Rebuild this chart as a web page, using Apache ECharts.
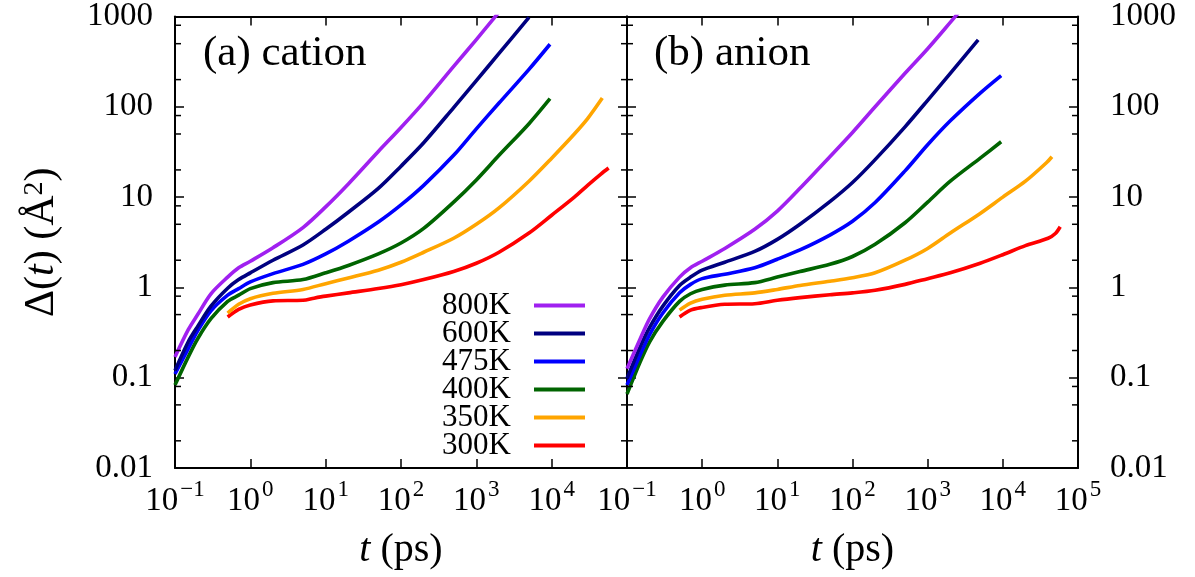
<!DOCTYPE html>
<html>
<head>
<meta charset="utf-8">
<script src="https://cdn.jsdelivr.net/npm/echarts@6/dist/echarts.min.js"></script>
<style>
html,body{margin:0;padding:0;background:#fff;}
#chart{width:1195px;height:577px;}
</style>
</head>
<body>
<div id="chart"></div>
<script>
// ---------------- data ----------------
const seriesNames = ['800K', '600K', '475K', '400K', '350K', '300K'];
const panelTitles = ['(a) cation', '(b) anion'];
const yTickLabels = ['0.01', '0.1', '1', '10', '100', '1000'];
const minorTickValues = [0.02, 0.05, 0.08, 0.2, 0.5, 0.8, 2, 5, 8, 20, 50, 80, 200, 500, 800];

// cation, [t (ps), Delta (A^2)]
const cation800 = [[0.1,0.17],[0.15,0.34],[0.2,0.5],[0.3,0.85],[0.5,1.3],[0.7,1.65],[1,1.95],[2,2.75],[5,4.6],[10,7.8],[20,14],[50,32],[100,59],[200,112],[500,280],[1000,555],[2000,1120]];
const cation600 = [[0.1,0.12],[0.15,0.25],[0.2,0.37],[0.3,0.62],[0.5,0.98],[0.7,1.22],[1,1.45],[2,2.0],[5,2.95],[10,4.4],[20,6.8],[50,12.5],[100,22],[200,40],[500,98],[1000,195],[2000,390],[5000,980]];
const cation475 = [[0.1,0.11],[0.15,0.21],[0.2,0.33],[0.3,0.55],[0.5,0.82],[0.7,0.97],[1,1.15],[2,1.42],[5,1.8],[10,2.35],[20,3.25],[50,5.3],[100,8.2],[200,13.5],[500,29],[1000,57],[2000,110],[5000,260],[9500,493]];
const cation400 = [[0.1,0.083],[0.15,0.17],[0.2,0.27],[0.3,0.45],[0.5,0.7],[0.7,0.82],[1,0.97],[2,1.13],[5,1.22],[10,1.45],[20,1.75],[50,2.35],[100,3.1],[200,4.5],[500,8.8],[1000,15.5],[2000,29],[5000,65],[9500,123]];
const cation350 = [[0.5,0.52],[0.7,0.65],[1,0.75],[2,0.86],[5,0.95],[10,1.1],[20,1.27],[50,1.55],[100,1.9],[200,2.45],[500,3.5],[1000,5.0],[2000,7.6],[5000,15],[10000,27],[20000,50],[30000,74],[47000,125]];
const cation300 = [[0.5,0.47],[0.7,0.57],[1,0.64],[2,0.71],[5,0.72],[7,0.76],[10,0.8],[20,0.87],[50,0.97],[100,1.07],[200,1.22],[500,1.5],[1000,1.85],[2000,2.45],[5000,4.0],[10000,6.3],[20000,10],[30000,13.5],[45000,18],[57000,21]];

// anion
const anion800 = [[0.1,0.126],[0.15,0.27],[0.2,0.45],[0.3,0.78],[0.5,1.3],[0.7,1.65],[1,1.95],[2,2.7],[5,4.4],[10,7.0],[20,12.5],[50,28],[100,52],[200,100],[500,235],[1000,440],[2000,860],[3000,1280]];
const anion600 = [[0.1,0.098],[0.15,0.22],[0.2,0.36],[0.3,0.62],[0.5,1.05],[0.7,1.3],[1,1.55],[2,1.9],[5,2.5],[10,3.4],[20,5.0],[50,8.9],[100,14.5],[200,26],[500,60],[1000,118],[2000,235],[4700,550]];
const anion475 = [[0.1,0.083],[0.15,0.18],[0.2,0.3],[0.3,0.52],[0.5,0.87],[0.7,1.08],[1,1.25],[2,1.4],[5,1.65],[10,2.05],[20,2.6],[50,3.8],[100,5.4],[200,8.7],[500,19.5],[1000,38],[2000,70],[5000,142],[9500,222]];
const anion400 = [[0.1,0.066],[0.15,0.15],[0.2,0.25],[0.3,0.42],[0.5,0.7],[0.7,0.85],[1,0.95],[2,1.06],[5,1.13],[10,1.3],[20,1.5],[50,1.8],[100,2.2],[200,3.0],[500,5.2],[1000,8.8],[2000,15],[5000,27],[9500,41]];
const anion350 = [[0.5,0.56],[0.7,0.67],[1,0.74],[2,0.82],[5,0.87],[10,0.95],[20,1.05],[50,1.17],[100,1.28],[200,1.45],[500,2.0],[1000,2.7],[2000,4.0],[5000,6.6],[10000,10],[20000,15],[38000,24],[45000,28]];
const anion300 = [[0.5,0.47],[0.7,0.56],[1,0.6],[2,0.65],[5,0.66],[10,0.72],[20,0.77],[50,0.83],[100,0.87],[200,0.93],[500,1.08],[1000,1.25],[2000,1.45],[5000,1.85],[10000,2.3],[20000,2.9],[40000,3.5],[50000,3.95],[58000,4.7]];

const cationData = [cation800, cation600, cation475, cation400, cation350, cation300];
const anionData = [anion800, anion600, anion475, anion400, anion350, anion300];

// ---------------- styles ----------------
const colors = ['#a020f0', '#000080', '#0000ff', '#006400', '#ffa500', '#ff0000'];
const FONT = 'Liberation Serif';
const BLACK = '#000';

const chart = echarts.init(document.getElementById('chart'), null, {renderer: 'canvas'});

const supFmt = function (v) {
  const e = Math.round(Math.log10(v));
  const s = e < 0 ? '\u2212' + (-e) : String(e);
  return '{b|10}{s|' + s + '}';
};
const yFmt = function (v) {
  const e = Math.round(Math.log10(v));
  return yTickLabels[e + 2];
};

const xRich = {
  b: {fontSize: 33, fontFamily: FONT, color: BLACK, lineHeight: 40, verticalAlign: 'bottom'},
  s: {fontSize: 23, fontFamily: FONT, color: BLACK, lineHeight: 40, verticalAlign: 'top', padding: [0, 0, 0, 2]}
};

function xAxisCfg(grid, pos, labels, showMax) {
  return {
    type: 'log', logBase: 10, min: 0.1, max: 100000, splitNumber: 6,
    gridIndex: grid, position: pos,
    axisLine: {show: true, onZero: false, lineStyle: {color: BLACK, width: 2}},
    axisTick: {show: true, inside: true, length: 9, lineStyle: {color: BLACK, width: 1.5}},
    minorTick: {show: false},
    splitLine: {show: false},
    axisLabel: labels ? {
      show: true, margin: 10, formatter: supFmt, rich: xRich,
      showMinLabel: true, showMaxLabel: showMax, hideOverlap: false
    } : {show: false},
    name: labels ? '{i|t} (ps)' : '',
    nameLocation: 'middle', nameGap: 62,
    nameTextStyle: {fontSize: 40, fontFamily: FONT, color: BLACK,
      rich: {i: {fontSize: 40, fontFamily: FONT, fontStyle: 'italic', color: BLACK}}}
  };
}

function yAxisCfg(grid, pos, labels, withName) {
  return {
    type: 'log', logBase: 10, min: 0.01, max: 1000, splitNumber: 5,
    gridIndex: grid, position: pos,
    axisLine: {show: true, onZero: false, lineStyle: {color: BLACK, width: 2}},
    axisTick: {show: true, inside: true, length: 9, lineStyle: {color: BLACK, width: 1.5}},
    minorTick: {show: false},
    splitLine: {show: false},
    axisLabel: labels ? {
      show: true, margin: pos === 'left' ? 22 : 32, formatter: yFmt,
      fontSize: 33, fontFamily: FONT, color: BLACK, showMinLabel: true, showMaxLabel: true, hideOverlap: false
    } : {show: false},
    name: withName ? '\u0394({i|t}) (\u00c5{s|2})' : '',
    nameLocation: 'middle', nameGap: 112, nameRotate: 90,
    nameTextStyle: {fontSize: 42, fontFamily: FONT, color: BLACK,
      rich: {
        i: {fontSize: 42, fontFamily: FONT, fontStyle: 'italic', color: BLACK},
        s: {fontSize: 28, fontFamily: FONT, color: BLACK, verticalAlign: 'top', lineHeight: 42}
      }}
  };
}

const grids = [
  {left: 175, top: 16, width: 452, height: 452, containLabel: false},
  {left: 627, top: 16, width: 451, height: 452, containLabel: false}
];

const xAxes = [
  xAxisCfg(0, 'bottom', true, false),
  xAxisCfg(0, 'top', false, false),
  xAxisCfg(1, 'bottom', true, true),
  xAxisCfg(1, 'top', false, false)
];
const yAxes = [
  yAxisCfg(0, 'left', true, true),
  yAxisCfg(0, 'right', false, false),
  yAxisCfg(1, 'left', false, false),
  yAxisCfg(1, 'right', true, false)
];

const series = [];
[cationData, anionData].forEach(function (panel, p) {
  panel.forEach(function (d, i) {
    series.push({
      type: 'line', name: seriesNames[i], data: d,
      xAxisIndex: p * 2, yAxisIndex: p * 2,
      showSymbol: false, symbol: 'none', smooth: 0.3,
      clip: true, animation: false,
      lineStyle: {color: colors[i], width: 3.6, join: 'round', cap: 'butt'},
      itemStyle: {color: colors[i]},
      z: 3 + (6 - i)
    });
  });
  // minor ticks on both vertical edges of the panel
  series.push({
    type: 'custom', xAxisIndex: p * 2, yAxisIndex: p * 2, silent: true, animation: false,
    clip: false, z: 10,
    data: minorTickValues.map(function (v) { return [1, v]; }),
    renderItem: function (params, api) {
      const v = api.value(1);
      const pl = api.coord([0.1, v]);
      const pr = api.coord([100000, v]);
      const st = {stroke: BLACK, lineWidth: 1.5};
      return {type: 'group', children: [
        {type: 'line', shape: {x1: pl[0], y1: pl[1], x2: pl[0] + 6, y2: pl[1]}, style: st},
        {type: 'line', shape: {x1: pr[0], y1: pr[1], x2: pr[0] - 6, y2: pr[1]}, style: st}
      ]};
    }
  });
});

const option = {
  backgroundColor: '#fff',
  animation: false,
  title: [
    {text: panelTitles[0], left: 198, top: 27, textStyle: {fontSize: 43, fontFamily: FONT, fontWeight: 'normal', color: BLACK}},
    {text: panelTitles[1], left: 649, top: 27, textStyle: {fontSize: 43, fontFamily: FONT, fontWeight: 'normal', color: BLACK}}
  ],
  legend: {
    data: seriesNames,
    orient: 'vertical', align: 'right',
    right: 610, top: 290, padding: 0,
    icon: 'rect', itemWidth: 51, itemHeight: 4, itemGap: -3.0,
    selectedMode: false,
    textStyle: {fontSize: 31, fontFamily: FONT, color: BLACK, padding: [0, 18, 0, 0]}
  },
  grid: grids,
  xAxis: xAxes,
  yAxis: yAxes,
  series: series
};
chart.setOption(option);
</script>
</body>
</html>
